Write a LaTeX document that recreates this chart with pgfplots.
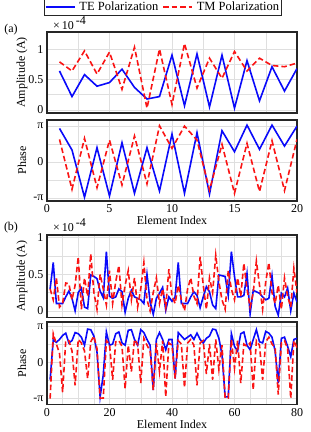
\documentclass[border=0pt]{standalone}
\usepackage{fontspec}
\setmainfont{Liberation Serif}
\usepackage{pgfplots}
\usepackage{pgfplotstable}
\pgfplotsset{compat=1.18}
\definecolor{teblue}{RGB}{10,10,250}
\definecolor{tmred}{RGB}{250,20,20}

\pgfplotstableread{
i teA tmA teP tmP
1 0.64 0.79 2.91 1.96
2 0.22 0.64 1.04 -2.36
3 0.58 0.97 -3.05 2.05
4 0.39 0.59 1.24 -2.22
5 0.45 0.95 -2.94 1.90
6 0.67 0.34 1.67 -1.99
7 0.37 1.03 -2.71 2.25
8 0.18 0.03 1.24 -1.90
9 0.22 1.00 -2.51 3.14
10 0.90 0.09 2.42 1.18
11 0.07 1.09 -2.71 3.11
12 0.92 0.36 2.54 1.90
13 0.05 0.85 -2.77 -2.42
14 0.90 0.52 2.71 1.53
15 0.03 0.96 0.89 -2.71
16 0.81 0.64 3.20 1.61
17 0.15 0.85 1.10 -2.56
18 0.71 0.73 3.20 1.84
19 0.31 0.71 1.38 -2.48
20 0.68 0.77 3.11 1.96
}\dataA

\pgfplotstableread{
i teA tmA teP tmP
1 0.30 0.30 -1.5 -3.14
2 0.66 0.15 1.95 2.5
3 0.10 0.45 1.75 1.6
4 0.10 0.05 2.0 0.8
5 0.10 0.10 2.35 -2.6
6 0.19 0.38 2.55 1.9
7 0.27 0.37 1.7 1.9
8 0.17 0.15 1.9 1.0
9 0.00 0.35 2.6 -2.0
10 0.25 0.74 2.5 2.0
11 0.31 0.02 2.2 1.7
12 0.05 0.45 1.5 1.0
13 0.03 0.20 2.9 -1.4
14 0.49 0.78 2.85 1.8
15 0.47 0.25 2.3 2.3
16 0.44 0.02 0.9 1.2
17 0.27 0.50 -3.0 -3.1
18 0.18 0.30 -1.1 -3.1
19 0.81 0.08 2.65 1.9
20 0.20 0.55 1.5 1.6
21 0.17 0.10 1.6 -1.5
22 0.19 0.40 2.5 1.8
23 0.30 0.62 2.65 1.9
24 0.26 0.08 1.7 1.4
25 -0.02 0.35 1.5 -2.3
26 0.17 0.55 2.8 1.5
27 0.28 0.15 2.85 -0.8
28 0.19 0.45 2.0 2.0
29 0.17 0.05 1.5 1.6
30 0.15 0.30 2.85 -1.8
31 0.10 0.66 2.6 2.1
32 0.50 0.15 2.0 1.5
33 0.12 0.00 1.5 1.0
34 -0.05 0.25 -2.4 -2.4
35 0.17 0.45 2.0 1.7
36 0.24 0.10 2.6 -0.8
37 0.32 0.30 2.0 1.9
38 0.01 0.05 1.1 -3.0
39 0.19 0.57 2.0 1.7
40 0.13 0.20 2.0 1.5
41 0.19 0.10 -1.4 -1.4
42 0.66 0.35 2.6 1.9
43 0.10 0.15 2.3 1.6
44 0.10 0.00 2.0 -2.2
45 0.10 0.30 2.2 1.7
46 0.19 0.45 2.4 2.0
47 0.26 0.20 2.0 1.5
48 0.21 0.10 2.55 -2.0
49 0.04 0.74 2.0 1.7
50 0.19 0.35 1.7 1.9
51 0.33 0.02 2.1 -1.0
52 0.26 0.45 2.3 1.6
53 0.08 0.25 2.9 -1.5
54 0.03 0.76 2.85 2.0
55 0.49 0.40 2.1 -0.6
56 0.48 0.15 0.7 1.5
57 0.47 0.02 -3.0 -3.1
58 0.21 0.55 -3.0 -3.1
59 0.81 0.30 2.5 2.0
60 0.47 0.15 1.4 -0.5
61 0.19 0.45 1.0 1.9
62 0.19 0.20 2.5 -1.8
63 0.21 0.65 2.65 1.6
64 0.51 0.30 1.5 1.4
65 -0.04 0.05 1.1 1.7
66 0.28 0.25 2.0 -2.4
67 0.26 0.68 2.85 1.9
68 0.24 0.35 1.8 1.5
69 0.19 0.02 1.7 -1.5
70 0.15 0.40 2.7 1.8
71 0.17 0.66 2.55 2.2
72 0.48 0.25 2.2 1.6
73 0.06 0.10 1.0 1.3
74 -0.06 0.35 -1.8 -2.8
75 0.24 0.02 2.1 1.7
76 0.19 0.45 2.2 1.9
77 0.31 0.20 1.4 1.2
78 0.00 0.05 0.5 -3.14
79 0.24 0.58 2.0 1.9
80 0.12 0.25 2.1 1.3
}\dataB

\begin{document}
\begin{tikzpicture}
\path[use as bounding box] (0pt,0pt) rectangle (311pt,-432pt);
\pgfplotsset{
  every axis/.append style={
    scale only axis,
    width=250pt,
    axis line style={line width=1.5pt, black!85},
    grid=both,
    major grid style={gray!25, line width=0.5pt},
    minor grid style={gray!25, line width=0.5pt},
    major tick length=0pt, minor tick length=0pt,
    tick style={draw=none},
    /pgf/number format/assume math mode=true,
    tick label style={font=\fontsize{12}{14}\selectfont},
    label style={font=\fontsize{12}{14}\selectfont},
    ylabel style={at={(axis description cs:-0.10,0.5)}, anchor=center},
    every axis plot/.append style={line width=1.5pt},
  },
  teline/.style={teblue, solid, line width=1.6pt},
  tmline/.style={tmred, dash pattern=on 5.5pt off 3pt, line width=1.6pt},
}
% (a) amplitude
\begin{axis}[
  at={(47pt,-32pt)}, anchor=north west, height=81pt,
  xmin=0, xmax=20, ymin=-0.05, ymax=1.28,
  xtick={0,5,10,15,20}, xticklabels={}, minor x tick num=1,
  ytick={0,0.5,1}, yticklabels={0,0.5,1}, minor y tick num=1,
  ylabel={Amplitude (A)},
  legend columns=2,
  legend style={at={(axis description cs:0.464,1.204)}, anchor=south, draw=black!85, line width=0.9pt,
    font=\fontsize{12.5}{14}\selectfont, inner sep=0.8pt, column sep=2pt},
  legend image code/.code={\draw[#1] (0pt,0pt) -- (29pt,0pt);},
]
\addplot[teline] table[x=i, y=teA] {\dataA};
\addlegendentry{TE Polarization}
\addplot[tmline] table[x=i, y=tmA] {\dataA};
\addlegendentry{TM Polarization}
\end{axis}
% (a) phase
\begin{axis}[
  at={(47pt,-120pt)}, anchor=north west, height=81pt,
  xmin=0, xmax=20, ymin=-3.38, ymax=3.64,
  xtick={0,5,10,15,20}, minor x tick num=1,
  ytick={-3.14159,0,3.14159}, yticklabels={-π,0,π}, minor y tick num=1,
  ylabel={Phase}, xlabel={Element Index},
  xlabel style={yshift=3pt},
]
\addplot[teline] table[x=i, y=teP] {\dataA};
\addplot[tmline] table[x=i, y=tmP] {\dataA};
\end{axis}
% (b) amplitude
\begin{axis}[
  at={(47pt,-235pt)}, anchor=north west, height=82.5pt,
  xmin=0, xmax=80, ymin=-0.092, ymax=1.037,
  xtick={0,20,40,60,80}, xticklabels={}, minor x tick num=3,
  ytick={0,0.5,1}, yticklabels={0,0.5,1}, minor y tick num=1,
  ylabel={Amplitude (A)},
]
\addplot[teline] table[x=i, y=teA] {\dataB};
\addplot[tmline] table[x=i, y=tmA] {\dataB};
\end{axis}
% (b) phase
\begin{axis}[
  at={(47pt,-322pt)}, anchor=north west, height=82.5pt,
  xmin=0, xmax=80, ymin=-3.66, ymax=3.52,
  xtick={0,20,40,60,80}, minor x tick num=3,
  ytick={-3.14159,0,3.14159}, yticklabels={-π,0,π}, minor y tick num=1,
  ylabel={Phase}, xlabel={Element Index},
  xlabel style={yshift=3pt},
]
\addplot[teline] table[x=i, y=teP] {\dataB};
\addplot[tmline] table[x=i, y=tmP] {\dataB};
\end{axis}
\node[font=\fontsize{12}{14}\selectfont] at (11pt,-30pt) {(a)};
\node[font=\fontsize{12}{14}\selectfont] at (11pt,-228pt) {(b)};
\node[anchor=base west, font=\fontsize{12}{14}\selectfont, inner sep=0pt] at (53pt,-29pt) {×\,10\raisebox{5pt}{\,-4}};
\node[anchor=base west, font=\fontsize{12}{14}\selectfont, inner sep=0pt] at (53pt,-231pt) {×\,10\raisebox{5pt}{\,-4}};
\end{tikzpicture}
\end{document}
